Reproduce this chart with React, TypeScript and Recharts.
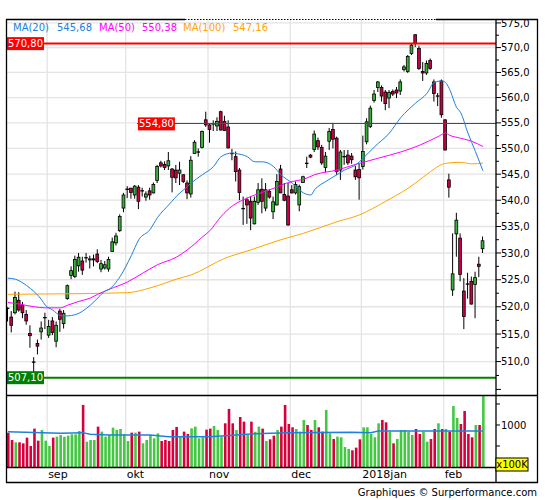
import React from 'react';
import { ComposedChart, Bar, Line, XAxis, YAxis, CartesianGrid, ReferenceLine, Cell } from 'recharts';

const FONT = '"DejaVu Sans", Verdana, sans-serif';
const GREEN = '#37b437';
const RED = '#cc0040';
const VGREEN = '#44c844';
const VRED = '#d8003c';
const BLUE = '#2080dd';
const MAGENTA = '#ff00ff';
const ORANGE = '#ffa500';

// Daily candles, 17 Aug 2017 -> 15 Feb 2018
const opens = [
  519.7, 518.1, 518.9, 521.2, 520.3, 518.6, 515.1, 509.9, 513.3, 515.4,
  518.0, 514.8, 517.4, 513.7, 519.2, 516.9, 521.5, 525.8, 525.6, 527.6,
  528.5, 529.1, 528.7, 528.9, 529.8, 527.0, 527.2, 527.0, 530.3, 531.9,
  534.2, 538.5, 542.1, 542.3, 541.0, 542.5, 541.8, 540.6, 541.8, 541.4,
  543.8, 547.2, 546.9, 546.6, 546.0, 545.8, 545.2, 544.9, 543.3, 541.2,
  549.0, 549.3, 550.2, 555.6, 554.6, 554.8, 554.4, 557.2, 555.3, 554.2,
  549.0, 548.4, 545.8, 538.4, 540.1, 539.8, 535.5, 539.6, 542.1, 538.5,
  541.7, 537.8, 539.1, 546.0, 541.1, 540.8, 542.0, 541.4, 539.1, 543.4,
  547.1, 548.7, 549.8, 551.5, 550.2, 546.3, 551.4, 553.7, 552.0, 545.8,
  548.4, 548.7, 548.5, 545.8, 545.9, 546.5, 551.3, 554.3, 559.4, 562.0,
  562.0, 561.1, 559.9, 561.2, 561.5, 561.3, 565.6, 565.2, 568.8, 572.6,
  569.8, 565.2, 564.9, 567.4, 563.1, 560.3, 563.3, 555.6, 543.9, 523.1,
  533.6, 532.8, 522.9, 524.2, 524.7, 524.1, 527.9, 530.8,
];
const highs = [
  519.9, 519.2, 522.8, 522.7, 520.9, 519.4, 516.6, 510.8, 514.0, 517.3,
  518.9, 517.6, 518.1, 517.3, 519.6, 519.4, 524.1, 527.5, 529.5, 530.0,
  529.3, 530.0, 529.5, 529.7, 530.7, 528.7, 528.5, 529.3, 532.9, 533.8,
  537.3, 541.4, 542.7, 542.4, 542.9, 542.9, 542.4, 541.7, 542.4, 543.4,
  546.8, 547.6, 547.5, 549.3, 546.2, 546.8, 547.4, 544.9, 543.8, 548.5,
  551.6, 550.0, 553.5, 557.2, 554.9, 555.5, 556.1, 557.4, 556.4, 555.5,
  549.9, 549.4, 546.2, 540.7, 540.5, 540.7, 540.7, 543.3, 544.2, 543.3,
  542.1, 540.7, 545.0, 546.8, 543.3, 543.3, 542.9, 543.6, 543.0, 544.7,
  548.4, 548.9, 553.5, 552.1, 550.7, 549.3, 554.0, 555.0, 552.3, 549.7,
  549.7, 549.7, 549.1, 546.6, 547.0, 552.5, 555.9, 558.4, 561.5, 563.3,
  562.4, 561.5, 561.5, 561.6, 562.1, 563.6, 566.5, 568.5, 570.9, 572.7,
  570.4, 567.1, 567.4, 567.8, 563.6, 560.9, 563.6, 555.7, 545.1, 533.7,
  537.6, 533.7, 525.3, 526.3, 525.6, 526.5, 529.3, 533.1,
];
const lows = [
  517.3, 515.3, 518.6, 519.1, 517.9, 516.7, 512.5, 507.1, 511.3, 514.0,
  515.9, 514.3, 514.8, 512.6, 515.4, 516.0, 521.3, 525.1, 525.3, 526.5,
  525.9, 528.2, 527.1, 527.5, 528.1, 526.4, 526.9, 526.5, 530.2, 531.4,
  534.0, 537.7, 540.4, 540.3, 540.3, 538.3, 540.7, 539.9, 540.1, 541.3,
  543.3, 546.3, 545.8, 545.8, 541.5, 543.3, 542.9, 543.3, 540.2, 540.5,
  549.0, 548.4, 550.0, 554.2, 551.1, 553.4, 553.4, 553.5, 553.4, 550.0,
  547.7, 543.6, 540.0, 535.3, 535.5, 534.3, 535.4, 539.1, 537.5, 537.9,
  540.3, 536.4, 539.0, 541.4, 539.8, 535.1, 541.3, 541.1, 537.9, 543.3,
  546.2, 548.1, 549.3, 549.7, 546.8, 545.4, 549.7, 550.0, 544.9, 543.9,
  546.8, 546.8, 547.0, 543.9, 540.1, 545.9, 550.8, 554.0, 559.0, 561.1,
  559.2, 557.5, 557.9, 560.3, 559.9, 560.5, 565.2, 564.9, 568.5, 570.1,
  565.5, 563.3, 564.5, 565.5, 559.2, 558.3, 556.0, 549.6, 540.5, 522.0,
  529.3, 524.7, 515.9, 521.5, 520.4, 517.9, 525.5, 530.0,
];
const closes = [
  519.7, 516.6, 521.7, 519.4, 518.9, 517.4, 514.7, 509.9, 512.8, 516.1,
  518.0, 516.4, 515.3, 516.6, 517.7, 518.8, 523.9, 526.7, 528.8, 529.2,
  526.8, 529.1, 528.9, 528.7, 528.4, 528.0, 527.8, 528.8, 532.1, 533.2,
  536.9, 541.0, 542.1, 541.5, 542.7, 539.8, 541.8, 541.2, 541.0, 543.0,
  546.5, 546.6, 546.3, 547.6, 544.4, 544.3, 545.8, 543.6, 541.4, 547.7,
  551.2, 549.3, 553.3, 554.6, 553.7, 554.8, 555.3, 553.6, 553.5, 550.1,
  549.0, 545.5, 541.5, 538.4, 539.1, 536.6, 539.8, 542.0, 539.8, 542.0,
  540.6, 539.7, 543.6, 541.4, 540.0, 535.3, 541.4, 543.0, 542.6, 544.5,
  547.1, 548.3, 552.8, 550.3, 547.2, 548.5, 553.3, 551.8, 545.5, 549.3,
  548.4, 547.2, 547.8, 544.5, 544.3, 549.4, 555.2, 557.9, 560.7, 563.1,
  560.3, 558.8, 561.0, 560.7, 560.9, 563.1, 566.1, 568.2, 570.5, 570.8,
  565.8, 564.9, 566.8, 565.8, 560.8, 560.3, 556.6, 549.7, 542.5, 526.1,
  536.2, 526.0, 518.2, 524.2, 520.5, 525.4, 527.5, 532.3,
];

// volume in units of 100K
const volumes = [
  818, 643, 588, 588, 564, 699, 500, 913, 627, 881,
  627, 500, 699, 723, 762, 723, 746, 778, 778, 858,
  1477, 603, 643, 643, 961, 842, 723, 762, 937, 881,
  905, 778, 619, 818, 818, 842, 564, 643, 762, 683,
  802, 619, 643, 619, 881, 953, 723, 842, 786, 921,
  961, 683, 707, 889, 913, 977, 881, 723, 1040, 1382,
  1040, 881, 1191, 1080, 762, 1080, 842, 961, 913, 619,
  659, 746, 881, 961, 1477, 1024, 945, 905, 842, 1120,
  1000, 881, 1120, 945, 842, 1358, 802, 667, 723, 707,
  476, 429, 397, 461, 659, 945, 945, 786, 707, 1040,
  1120, 1064, 842, 564, 667, 881, 881, 842, 762, 905,
  786, 842, 603, 667, 905, 1040, 905, 905, 842, 1453,
  1167, 1024, 1334, 786, 707, 1000, 1000, 1690,
];
const volumeColors =
  'rrgrrrrrrg' + 'ggrggggggg' + 'rgggrggggg' + 'gggrgrgggg' + 'grrrrrgrrg' +
  'gggrrgggrr' + 'rgrrgrggrg' + 'rrgrrrrggg' + 'rrgrrggrgg' + 'ggrrrggggg' +
  'rrgrgggggr' + 'rggrrgrgrg' + 'grrrrgrg';

// moving averages: [candle index, value]
const ma20Points: [number, number][] = [
  [1, 525.3], [3, 525.1], [5, 524.4], [7, 523.4], [10, 521.3], [11, 520.3], [13, 519.4], [15, 518.4],
  [16, 518.3], [18, 518.4], [20, 518.8], [22, 519.7], [24, 520.9], [25, 521.6], [27, 522.9], [28, 523.2],
  [31, 525.6], [34, 529.5], [36, 532.5], [39, 534.4], [41, 536.7], [44, 539.1], [47, 541.4], [48, 542.0],
  [50, 543.3], [53, 544.9], [56, 546.5], [58, 548.4], [61, 549.1], [62, 549.0], [65, 548.4], [67, 547.4],
  [69, 547.4], [72, 546.5], [74, 544.9], [77, 543.3], [80, 541.4], [82, 541.0], [83, 542.0], [86, 543.6],
  [89, 544.9], [91, 545.8], [94, 546.8], [96, 548.1], [99, 550.3], [103, 553.0], [106, 556.0], [110, 558.9],
  [113, 560.8], [115, 563.0], [117, 563.3], [118, 563.0], [119, 561.8], [121, 558.0], [122, 557.1],
  [124, 553.0], [126, 549.4], [128, 545.68],
];
const ma50Points: [number, number][] = [
  [1, 520.8], [4, 520.5], [8, 520.0], [11, 519.8], [15, 519.8], [17, 520.3], [20, 521.0], [23, 521.6],
  [25, 522.3], [28, 523.2], [33, 524.6], [37, 526.2], [41, 527.8], [46, 529.2], [49, 530.6], [53, 533.0],
  [55, 534.2], [58, 536.9], [61, 538.9], [64, 540.1], [67, 541.0], [71, 542.0], [77, 543.6], [80, 544.0],
  [83, 544.9], [89, 545.8], [94, 546.9], [100, 548.1], [106, 549.3], [111, 550.6], [116, 552.3],
  [118, 553.0], [119, 552.6], [122, 552.0], [125, 551.4], [128, 550.38],
];
const ma100Points: [number, number][] = [
  [1, 522.3], [17, 522.4], [33, 522.6], [37, 523.1], [41, 523.9], [46, 525.1], [50, 525.9], [59, 529.0],
  [66, 530.6], [74, 532.5], [80, 533.7], [89, 535.9], [95, 537.2], [102, 539.8], [108, 542.3],
  [112, 544.4], [114, 545.5], [118, 547.1], [122, 547.3], [125, 547.0], [128, 547.16],
];
const volumeMaPoints: [number, number][] = [
  [1, 842], [15, 802], [21, 818], [23, 778], [28, 762], [39, 762], [44, 723], [55, 723], [59, 746],
  [66, 786], [76, 818], [93, 826], [98, 818], [100, 858], [128, 858],
];

const monthFirstIndex = [12, 33, 55, 77, 96, 118];
const monthLabels = ['sep', 'okt', 'nov', 'dec', '2018jan', 'feb'];
const priceTicks = [505, 507.5, 510, 512.5, 515, 517.5, 520, 522.5, 525, 527.5, 530, 532.5, 535, 537.5,
  540, 542.5, 545, 547.5, 550, 552.5, 555, 557.5, 560, 562.5, 565, 567.5, 570, 572.5, 575];
const gridPrices = [510, 515, 520, 525, 530, 535, 540, 545, 550, 555, 560, 565, 570, 575];
const volumeTicks = [500, 1000, 1500];
const priceDomain = [504.0, 575.8];
const volumeDomain = [0, 1690];

const levels = [
  { value: 570.8, text: '570,80', color: '#ff0000', width: 2, from: null as number | null },
  { value: 554.8, text: '554,80', color: '#ff0000', width: 1, from: 35.5 },
  { value: 507.1, text: '507,10', color: '#008000', width: 2, from: null as number | null },
];

const legendItems = [
  { name: 'MA(20)', value: 545.68, color: BLUE, x: 13, vx: 57 },
  { name: 'MA(50)', value: 550.38, color: MAGENTA, x: 99, vx: 142 },
  { name: 'MA(100)', value: 547.16, color: ORANGE, x: 183, vx: 233 },
];

const SLOT_COUNT = 131;
const xDomain = [0.5, SLOT_COUNT + 0.5];
const monthGrid = monthFirstIndex.map((i) => i - 0.5);

const table: any[] = Array.from({ length: SLOT_COUNT }, (_, k) => {
  const row: any = { i: k + 1 };
  if (k < opens.length) {
    row.o = opens[k];
    row.h = highs[k];
    row.l = lows[k];
    row.c = closes[k];
    row.range = [lows[k], highs[k]];
    row.vol = volumes[k];
    row.up = volumeColors[k] === 'g';
  }
  return row;
});
ma20Points.forEach(([i, v]) => { table[i - 1].ma20 = v; });
ma50Points.forEach(([i, v]) => { table[i - 1].ma50 = v; });
ma100Points.forEach(([i, v]) => { table[i - 1].ma100 = v; });
volumeMaPoints.forEach(([i, v]) => { table[i - 1].vma = v; });

const comma = (v: number, d: number) => v.toFixed(d).replace('.', ',');

const Candle = (props: any) => {
  const { x, y, width, height, payload } = props;
  if (!payload || payload.o == null || !isFinite(y) || !isFinite(height)) return null;
  const { o, h, l, c } = payload;
  const top = Math.min(y, y + height);
  const hgt = Math.abs(height);
  const cx = x + width / 2;
  const span = Math.log(h / l);
  const yOf = (v: number) => (span > 0 ? top + (Math.log(h / v) / span) * hgt : top);
  const bTop = yOf(Math.max(o, c));
  const bBot = yOf(Math.min(o, c));
  const color = c > o ? GREEN : RED;
  return (
    <g>
      <line x1={cx} x2={cx} y1={top} y2={top + hgt} stroke="#000" strokeWidth={1} />
      {c === o ? (
        <line x1={cx - 1.8} x2={cx + 1.8} y1={bTop} y2={bTop} stroke="#000" strokeWidth={1.3} />
      ) : (
        <rect x={cx - 1.4} y={bTop} width={2.8} height={Math.max(bBot - bTop, 1)} fill={color} stroke="#000" strokeWidth={0.8} />
      )}
    </g>
  );
};

const PriceTick = (props: any) => {
  const { x, y, payload } = props;
  const v = payload.value;
  const major = Math.abs(v % 5) < 1e-6;
  return (
    <g>
      <line x1={x} x2={x + (major ? 5 : 3)} y1={y} y2={y} stroke="#000" strokeWidth={1} />
      {major && v >= 510 ? (
        <text x={x + 5} y={y} dy="0.36em" fontSize={10} fontFamily={FONT} fill="#000">{comma(v, 1)}</text>
      ) : null}
    </g>
  );
};

const VolTick = (props: any) => {
  const { x, y, payload } = props;
  return (
    <g>
      <line x1={x} x2={x + 4} y1={y} y2={y} stroke="#000" strokeWidth={1} />
      {payload.value === 1000 ? (
        <text x={x + 5} y={y} dy="0.36em" fontSize={10} fontFamily={FONT} fill="#000">1000</text>
      ) : null}
    </g>
  );
};

const MonthTick = (props: any) => {
  const { x, y, payload } = props;
  const idx = monthGrid.indexOf(payload.value);
  if (idx < 0) return null;
  return (
    <text x={x + 1} y={y + 11} fontSize={11} fontFamily={FONT} fill="#000">{monthLabels[idx]}</text>
  );
};

const LevelBox = (props: any) => {
  const { viewBox, text, color } = props;
  if (!viewBox) return null;
  const x = viewBox.x + 1;
  const y = viewBox.y + (viewBox.height || 0) / 2;
  return (
    <g>
      <rect x={x} y={y - 6.5} width={37} height={13} fill={color} />
      <text x={x + 18.5} y={y} dy="0.36em" textAnchor="middle" fontSize={10} fontFamily={FONT} fill="#fff">{text}</text>
    </g>
  );
};

export default function App() {
  return (
    <div style={{ position: 'absolute', left: 0, top: 0, width: 545, height: 500, background: '#fff' }}>
      <div style={{ position: 'absolute', left: 0, top: 0 }}>
        <ComposedChart width={545} height={500} data={table} margin={{ top: 19, right: 7, bottom: 105, left: 6 }}>
          <CartesianGrid stroke="#e4e4e4" strokeWidth={1.3} horizontalValues={gridPrices} verticalValues={monthGrid} />
          <XAxis dataKey="i" type="number" domain={xDomain} allowDataOverflow hide />
          <YAxis
            orientation="right"
            width={42}
            scale="log"
            domain={priceDomain}
            allowDataOverflow
            ticks={priceTicks}
            interval={0}
            tick={PriceTick}
            tickLine={false}
            axisLine={false}
            tickSize={0}
            tickMargin={0}
          />
          {levels.map((lv) =>
            lv.from == null ? (
              <ReferenceLine key={lv.text} y={lv.value} stroke={lv.color} strokeWidth={lv.width}
                label={<LevelBox text={lv.text} color={lv.color} />} />
            ) : (
              <ReferenceLine key={lv.text} segment={[{ x: lv.from, y: lv.value }, { x: xDomain[1], y: lv.value }]}
                stroke={lv.color} strokeWidth={lv.width} shapeRendering="crispEdges"
                label={<LevelBox text={lv.text} color={lv.color} />} />
            )
          )}
          <Bar dataKey="range" barSize={3} shape={Candle} isAnimationActive={false} />
          <Line dataKey="ma100" type="monotone" stroke={ORANGE} strokeWidth={1} dot={false} activeDot={false} connectNulls isAnimationActive={false} />
          <Line dataKey="ma50" type="monotone" stroke={MAGENTA} strokeWidth={1} dot={false} activeDot={false} connectNulls isAnimationActive={false} />
          <Line dataKey="ma20" type="monotone" stroke={BLUE} strokeWidth={1} dot={false} activeDot={false} connectNulls isAnimationActive={false} />
        </ComposedChart>
      </div>
      <div style={{ position: 'absolute', left: 0, top: 0 }}>
        <ComposedChart width={545} height={500} data={table} margin={{ top: 396, right: 7, bottom: 18, left: 6 }}>
          <CartesianGrid stroke="#e4e4e4" strokeWidth={1.3} horizontal={false} verticalValues={monthGrid} />
          <XAxis
            dataKey="i"
            type="number"
            domain={xDomain}
            allowDataOverflow
            height={15}
            ticks={monthGrid}
            interval={0}
            tick={MonthTick}
            tickLine={false}
            axisLine={false}
            tickSize={0}
            tickMargin={0}
          />
          <YAxis
            orientation="right"
            width={42}
            domain={volumeDomain}
            allowDataOverflow
            ticks={volumeTicks}
            interval={0}
            tick={VolTick}
            tickLine={false}
            axisLine={false}
            tickSize={0}
            tickMargin={0}
          />
          <Bar dataKey="vol" barSize={2.6} isAnimationActive={false}>
            {table.map((d, k) => (
              <Cell key={k} fill={d.up ? VGREEN : VRED} />
            ))}
          </Bar>
          <Line dataKey="vma" type="linear" stroke={BLUE} strokeWidth={1.5} dot={false} activeDot={false} connectNulls isAnimationActive={false} />
        </ComposedChart>
      </div>
      <svg width={545} height={500} style={{ position: 'absolute', left: 0, top: 0, pointerEvents: 'none' }}>
        <g stroke="#000" strokeWidth={1.3} fill="none">
          <line x1={6} x2={185} y1={19.5} y2={19.5} />
          <line x1={185} x2={436} y1={19.5} y2={19.5} strokeDasharray="1.5 1.5" strokeWidth={1} />
          <line x1={436} x2={538} y1={19.5} y2={19.5} />
          <line x1={6.5} x2={6.5} y1={19} y2={483} />
          <line x1={537.5} x2={537.5} y1={19} y2={483} />
          <line x1={6} x2={538} y1={482.5} y2={482.5} />
          <line x1={6} x2={538} y1={395.5} y2={395.5} />
          <line x1={496} x2={496} y1={19} y2={483} />
          <line x1={6} x2={496} y1={467.5} y2={467.5} />
        </g>
        {legendItems.map((it) => (
          <g key={it.name} fontSize={10} fontFamily={FONT} fill={it.color}>
            <text x={it.x} y={30.5}>{it.name}</text>
            <text x={it.vx} y={30.5}>{comma(it.value, 2)}</text>
          </g>
        ))}
        <rect x={496} y={458} width={32} height={13} fill="#ffff00" stroke="#000" strokeWidth={1} />
        <text x={512} y={464.5} dy="0.36em" textAnchor="middle" fontSize={10} fontFamily={FONT} fill="#000">x100K</text>
        <text x={537} y={496} textAnchor="end" fontSize={10} fontFamily={FONT} fill="#000">Graphiques © Surperformance.com</text>
      </svg>
    </div>
  );
}
